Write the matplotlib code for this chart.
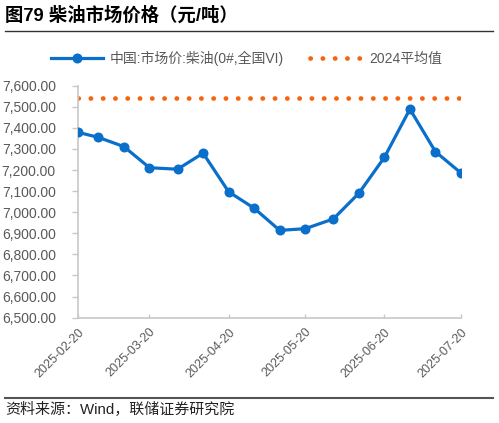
import matplotlib
matplotlib.use('Agg')
import matplotlib.pyplot as plt
from matplotlib.lines import Line2D
import datetime as dt

plt.rcParams['font.family'] = ['Liberation Sans', 'Noto Sans CJK SC', 'DejaVu Sans']

# data
dates = ['2025-02-20', '2025-02-28', '2025-03-10', '2025-03-20', '2025-03-31',
         '2025-04-10', '2025-04-20', '2025-04-30', '2025-05-10', '2025-05-20',
         '2025-05-31', '2025-06-10', '2025-06-20', '2025-06-30', '2025-07-10',
         '2025-07-20']
price = [7379, 7355, 7311, 7211, 7204, 7280, 7097, 7019, 6914, 6922,
         6968, 7090, 7260, 7489, 7287, 7186]
avg_2024 = 7542
xticks = ['2025-02-20', '2025-03-20', '2025-04-20', '2025-05-20', '2025-06-20', '2025-07-20']
yticks = [6500, 6600, 6700, 6800, 6900, 7000, 7100, 7200, 7300, 7400, 7500, 7600]

series_name = '中国:市场价:柴油(0#,全国VI)'
avg_name = '2024平均值'
title = '图79 柴油市场价格（元/吨）'
source = '资料来源：Wind，联储证券研究院'

blue = '#0A6FCB'
orange = '#F5650F'
gray = '#595959'
axis_gray = '#C8C8C8'
dots = (0, (0.05, 2.55))

x = [dt.datetime.strptime(d, '%Y-%m-%d') for d in dates]
xt = [dt.datetime.strptime(d, '%Y-%m-%d') for d in xticks]

fig = plt.figure(figsize=(4.99, 4.23), dpi=100)
ax = fig.add_axes([0.1563, 0.249, 0.7675, 0.5484])

ax.plot([xt[0], xt[-1]], [avg_2024, avg_2024], color=orange, lw=3.4,
        linestyle=dots, dash_capstyle='round', zorder=2)
ax.plot(x, price, color=blue, lw=2.3, marker='o', markersize=6.2, zorder=3)

ax.set_xlim(xt[0], xt[-1])
ax.set_ylim(yticks[0], yticks[-1])
ax.set_yticks(yticks)
ax.set_yticklabels([f'{v:,.2f}' for v in yticks], fontsize=10, color=gray)
ax.set_xticks(xt)
ax.set_xticklabels(xticks, fontsize=9, color=gray, rotation=45,
                   ha='right', va='top', rotation_mode='anchor')

for s in ['top', 'right']:
    ax.spines[s].set_visible(False)
for s in ['left', 'bottom']:
    ax.spines[s].set_color(axis_gray)
    ax.spines[s].set_linewidth(1.2)
ax.tick_params(axis='y', direction='out', length=4, color=axis_gray, width=1, pad=12)
ax.tick_params(axis='x', direction='in', length=3, color=axis_gray, width=1, pad=6)

handles = [
    Line2D([], [], color=blue, lw=2.3, marker='o', markersize=6.2),
    Line2D([], [], color=orange, lw=3.4, linestyle=dots, dash_capstyle='round'),
]
leg = fig.legend(handles, [series_name, avg_name], loc='center',
                 bbox_to_anchor=(0.494, 0.863), ncol=2, frameon=False,
                 fontsize=10, handlelength=3.75, handletextpad=0.5,
                 columnspacing=1.9, labelcolor=gray)

fig.text(0.01, 0.964, title, fontsize=13.2, fontweight='bold', va='center', ha='left')
fig.add_artist(Line2D([0.01, 0.988], [0.927, 0.927], color='#333333', lw=1.0))
fig.add_artist(Line2D([0.01, 0.988], [0.059, 0.059], color='#555555', lw=1.5))
fig.text(0.01, 0.031, source, fontsize=10.8, va='center', ha='left', color='#222222')

fig.savefig('out.png', dpi=100)
